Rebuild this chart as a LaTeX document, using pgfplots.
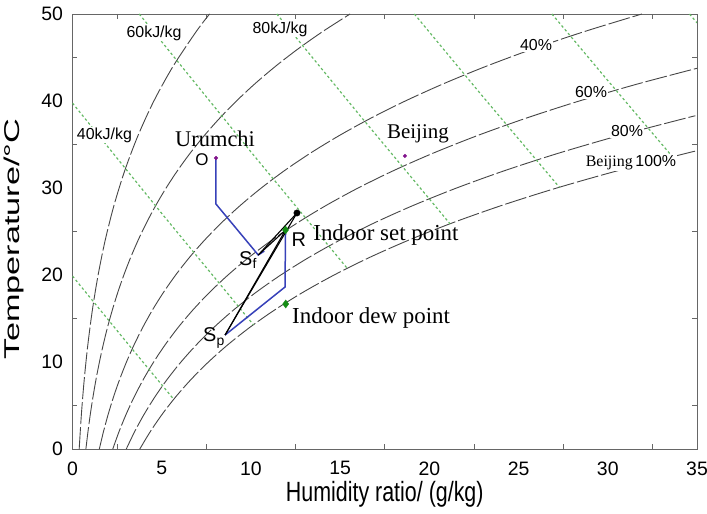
\documentclass[border=0pt]{standalone}
\usepackage{pgfplots}
\pgfplotsset{compat=1.18}
\usepackage{fontspec}
\setmainfont{Liberation Sans}
\newfontfamily\serif{Liberation Serif}
\definecolor{procblue}{RGB}{55,65,185}
\definecolor{ptpurple}{RGB}{130,20,140}
\definecolor{mkgreen}{RGB}{20,140,20}
\definecolor{hgreen}{RGB}{100,185,100}
\definecolor{rhgray}{RGB}{70,70,70}
\begin{document}
\begin{tikzpicture}
\begin{axis}[
 width=624.5bp, height=435bp, scale only axis,
 xmin=0, xmax=35, ymin=0, ymax=50,
 xtick={0,5,...,35}, ytick={0,10,...,50},
 minor xtick={2.5,7.5,...,32.5}, minor ytick={5,15,...,45},
 major tick length=0pt, minor tick length=5bp,
 tick align=inside,
 axis line style={black!60, line width=0.8bp},
 minor tick style={black!60, line width=0.8bp},
 tick label style={font=\fontsize{19.5}{22}\selectfont},
 /pgf/number format/assume math mode=true,
 xticklabel style={yshift=-9bp},
 yticklabel style={xshift=-6bp},
 xlabel={\scalebox{1}[1.3]{Humidity ratio/ (g/kg)}}, ylabel={\scalebox{1.6}[1]{Temperature/°C}},
 label style={font=\fontsize{21.5}{24}\selectfont},
 xlabel style={at={(axis description cs:0.5,-0.1034)}, anchor=center},
 ylabel style={at={(axis description cs:-0.0935,0.483)}, anchor=center},
 clip=true,
 rh/.style={rhgray, line width=0.9bp, dash pattern=on 22bp off 3bp, smooth, no markers},
 hl/.style={hgreen, line width=1.2bp, dash pattern=on 2.5bp off 2.5bp, no markers},
]
% relative humidity curves
\addplot[rh] coordinates {(3.773,0)(4.361,2)(5.029,4)(5.788,6)(6.647,8)(7.618,10)(8.715,12)(9.951,14)(11.342,16)(12.906,18)(14.662,20)(16.629,22)(18.835,24)(21.302,26)(24.062,28)(27.144,30)(30.583,32)(34.424,34)(35.04,34.3)};
\addplot[rh] coordinates {(3.015,0)(3.484,2)(4.017,4)(4.622,6)(5.306,8)(6.080,10)(6.953,12)(7.935,14)(9.041,16)(10.282,18)(11.674,20)(13.232,22)(14.977,24)(16.926,26)(19.102,28)(21.527,30)(24.228,32)(27.238,34)(30.588,36)(34.316,38)(34.91,38.3)};
\addplot[rh] coordinates {(2.258,0)(2.609,2)(3.008,4)(3.460,6)(3.971,8)(4.549,10)(5.200,12)(5.932,14)(6.756,16)(7.680,18)(8.715,20)(9.871,22)(11.166,24)(12.609,26)(14.218,28)(16.007,30)(17.996,32)(20.207,34)(22.663,36)(25.386,38)(28.402,40)(31.747,42)(35.453,44)};
\addplot[rh] coordinates {(1.504,0)(1.737,2)(2.002,4)(2.302,6)(2.642,8)(3.025,10)(3.457,12)(3.943,14)(4.488,16)(5.099,18)(5.783,20)(6.546,22)(7.399,24)(8.349,26)(9.406,28)(10.581,30)(11.882,32)(13.327,34)(14.928,36)(16.697,38)(18.651,40)(20.811,42)(23.195,44)(25.822,46)(28.719,48)(31.909,50)};
\addplot[rh] coordinates {(0.751,0)(0.868,2)(0.999,4)(1.149,6)(1.318,8)(1.509,10)(1.724,12)(1.965,14)(2.236,16)(2.539,18)(2.878,20)(3.256,22)(3.678,24)(4.147,26)(4.668,28)(5.246,30)(5.885,32)(6.593,34)(7.376,36)(8.238,38)(9.188,40)(10.234,42)(11.385,44)(12.649,46)(14.035,48)(15.556,50)};
\addplot[rh] coordinates {(0.375,0)(0.499,4)(0.658,8)(0.861,12)(1.116,16)(1.436,20)(1.833,24)(2.325,28)(2.929,32)(3.666,36)(4.560,40)(5.641,44)(6.940,48)(7.682,50)};
% enthalpy lines
\addplot[hl] coordinates {(0,19.88)(3,12.35)(5.68,5.7)};
\addplot[hl] coordinates {(0,39.76)(5,27.08)(10.14,14.28)};
\addplot[hl] coordinates {(3.74,50)(10,34.15)(15.40,20.76)};
\addplot[hl] coordinates {(11.45,50)(16,38.60)(21.16,25.88)};
\addplot[hl] coordinates {(19.16,50)(23,40.50)(27.29,30.08)};
\addplot[hl] coordinates {(26.87,50)(30,42.35)(33.62,33.6)};
\addplot[hl] coordinates {(34.58,50)(35,48.98)};
% curve labels
\begin{scope}[every node/.style={fill=white, inner sep=1bp, font=\fontsize{16}{18}\selectfont}]
\node at (axis cs:1.79,36.09) {40kJ/kg};
\node at (axis cs:4.57,47.82) {60kJ/kg};
\node at (axis cs:11.63,48.28) {80kJ/kg};
\node at (axis cs:25.98,46.44) {40\%};
\node at (axis cs:29.06,41.03) {60\%};
\node at (axis cs:31.08,36.55) {80\%};
\node at (axis cs:31.30,32.87) {{\serif Beijing}\,100\%};
\end{scope}
% process lines
\addplot[procblue, line width=1.5bp, no markers] coordinates {(8.04,33.45)(8.04,28.16)(10.41,22.30)(10.75,22.75)};
\addplot[procblue, line width=1.5bp, no markers] coordinates {(11.94,25.17)(11.91,18.62)(8.55,13.10)};
\addplot[black, line width=1.1bp, no markers] coordinates {(10.41,22.30)(11.94,25.17)};
\addplot[black, line width=1.1bp, no markers] coordinates {(10.41,22.30)(12.58,27.13)};
\addplot[black, line width=1.1bp, no markers] coordinates {(8.55,13.10)(11.94,25.17)};
\addplot[black, line width=1.1bp, no markers] coordinates {(8.55,13.10)(12.58,27.13)};
\addplot[black, only marks, mark=*, mark size=3.2bp] coordinates {(12.58,27.13)};
\addplot[mkgreen, only marks, mark=diamond*, mark size=4bp] coordinates {(11.94,25.17)(11.95,16.67)};
\addplot[ptpurple, only marks, mark=*, mark size=1.8bp] coordinates {(8.04,33.45)(18.63,33.68)};
% point labels
\node[font=\serif\fontsize{22.5}{24}\selectfont] at (axis cs:7.99,35.63) {Urumchi};
\node[font=\serif\fontsize{21}{24}\selectfont] at (axis cs:19.36,36.21) {Beijing};
\node[font=\fontsize{17}{18}\selectfont] at (axis cs:7.26,33.22) {O};
\node[font=\fontsize{20}{22}\selectfont] at (axis cs:12.69,24.02) {R};
\node[font=\fontsize{20}{22}\selectfont] at (axis cs:9.84,21.72) {S\textsubscript{f}};
\node[font=\fontsize{20}{22}\selectfont] at (axis cs:7.93,12.76) {S\textsubscript{p}};
\node[anchor=base west, inner sep=0pt, font=\serif\fontsize{23}{25}\selectfont] at (axis cs:13.49,24.02) {Indoor set point};
\node[anchor=base west, inner sep=0pt, font=\serif\fontsize{23}{25}\selectfont] at (axis cs:12.30,14.37) {Indoor dew point};
\end{axis}
\pgfresetboundingbox
\path[use as bounding box] ([shift={(-72.5bp,-65bp)}]current axis.south west) rectangle ([shift={(10bp,14bp)}]current axis.north east);
\end{tikzpicture}
\end{document}
